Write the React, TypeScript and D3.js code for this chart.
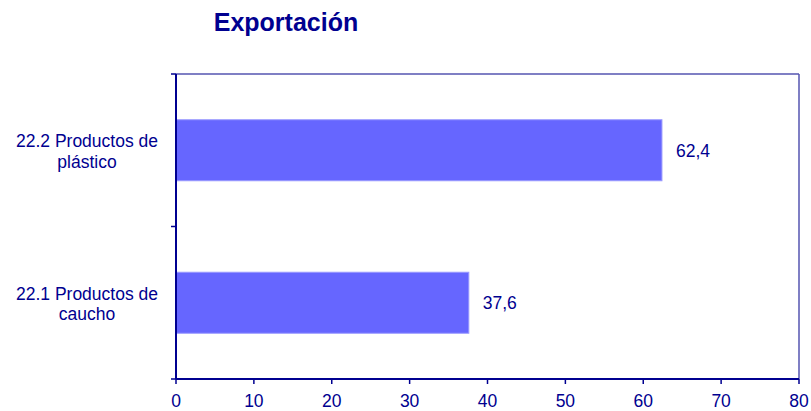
import React from "react";
import * as d3 from "d3";

const categories = ["22.2 Productos de|plástico", "22.1 Productos de|caucho"];
const values = [62.4, 37.6];
const valueLabels = ["62,4", "37,6"];
const xTicks = [0, 10, 20, 30, 40, 50, 60, 70, 80];
const title = "Exportación";

const W = 811, H = 411;
const left = 176, right = 799, top = 74, bottom = 379;
const navy = "#000090";
const font = "Arial, 'Liberation Sans', sans-serif";
const fs = 17.5;

export default function App() {
  const x = d3.scaleLinear().domain([0, 80]).range([left, right]);
  const y = d3.scaleBand<string>().domain(categories).range([top, bottom]).paddingInner(0.6).paddingOuter(0.3);
  const step = y.step();
  return (
    <svg width={W} height={H} style={{ position: "absolute", left: 0, top: 0 }} fontFamily={font}>
      <rect width={W} height={H} fill="#fff" />
      <text x={286} y={31} textAnchor="middle" fontSize={25} fontWeight="bold" fill={navy}>{title}</text>
      <line x1={left} x2={right} y1={top} y2={top} stroke="#5555b0" strokeWidth={1.5} />
      <line x1={right} x2={right} y1={top} y2={bottom} stroke="#5555b0" strokeWidth={1.5} />
      {categories.map((c, i) => {
        const y0 = y(c)!;
        const bw = y.bandwidth();
        const cy = y0 + bw / 2;
        const lines = c.split("|");
        return (
          <g key={c}>
            <rect x={x(0)} y={y0} width={x(values[i]) - x(0)} height={bw} fill="#6666ff" stroke="#9999ff" strokeWidth={1} />
            <text x={x(values[i]) + 14} y={cy + 6.5} fontSize={fs} fill={navy}>{valueLabels[i]}</text>
            {lines.map((l, j) => (
              <text key={j} x={87} y={cy - 3 + j * 20.5} textAnchor="middle" fontSize={fs} fill={navy}>{l}</text>
            ))}
          </g>
        );
      })}
      <line x1={left} x2={left} y1={top} y2={bottom} stroke={navy} strokeWidth={2} />
      {[0, 1, 2].map((k) => (
        <line key={k} x1={left - 5} x2={left} y1={top + k * step} y2={top + k * step} stroke={navy} strokeWidth={1.5} />
      ))}
      <line x1={left} x2={right} y1={bottom} y2={bottom} stroke={navy} strokeWidth={2} />
      {xTicks.map((t) => (
        <g key={t}>
          <line x1={x(t)} x2={x(t)} y1={bottom} y2={bottom + 5} stroke={navy} strokeWidth={1.5} />
          <text x={x(t)} y={406.5} textAnchor="middle" fontSize={fs} fill={navy}>{t}</text>
        </g>
      ))}
    </svg>
  );
}
